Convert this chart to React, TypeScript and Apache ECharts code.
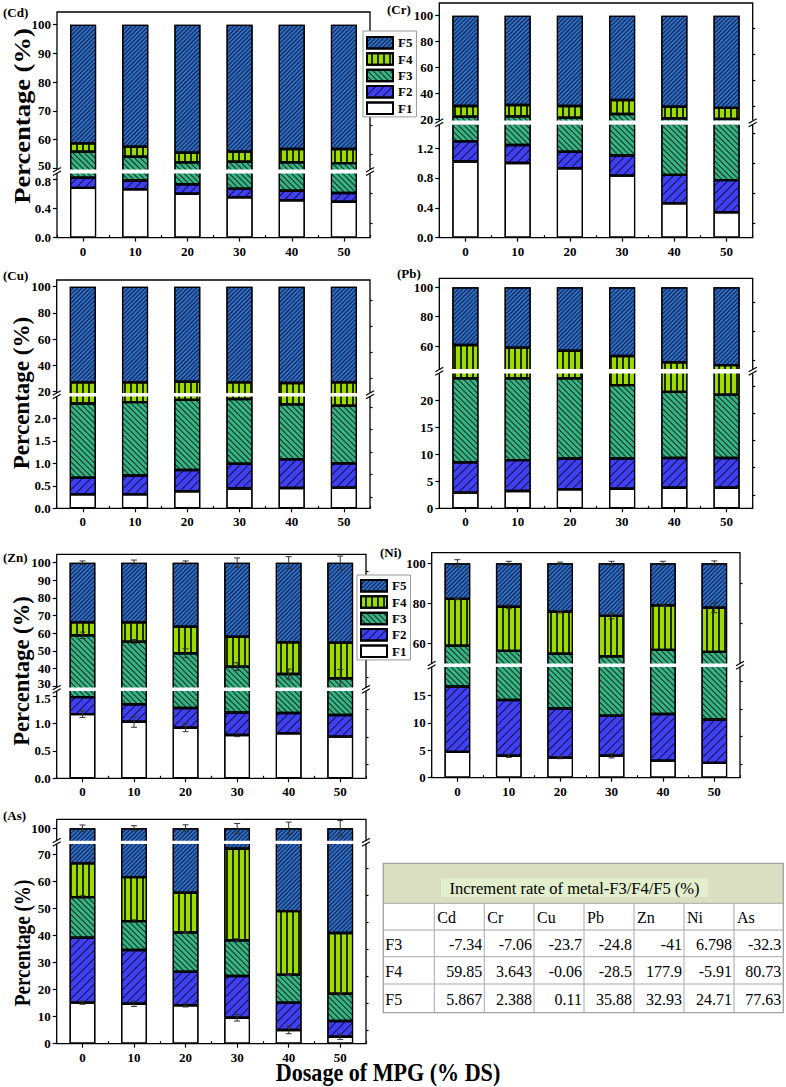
import React, { useEffect, useRef } from 'react';
import * as echarts from 'echarts';

const DOSAGE = ['0', '10', '20', '30', '40', '50'];
const FRACTIONS = ['F1', 'F2', 'F3', 'F4', 'F5'];
const LEGEND_ORDER = ['F5', 'F4', 'F3', 'F2', 'F1'];

// Cd (%)
const CD_F1 = [0.68, 0.66, 0.6, 0.55, 0.51, 0.49];
const CD_F2 = [0.14, 0.12, 0.13, 0.12, 0.13, 0.12];
const CD_F3 = [54.98, 53.22, 51.37, 51.63, 51.46, 51.19];
const CD_F4 = [2.9, 3.5, 3.3, 3.5, 4.6, 4.9];
const CD_F5 = [41.3, 42.5, 44.6, 44.2, 43.3, 43.3];
// Cr
const CR_F1 = [1.02, 1.0, 0.93, 0.83, 0.46, 0.34];
const CR_F2 = [0.27, 0.24, 0.22, 0.27, 0.38, 0.43];
const CR_F3 = [20.51, 20.76, 19.85, 22.8, 19.66, 19.23];
const CR_F4 = [8.3, 8.9, 9.1, 10.8, 9.0, 8.6];
const CR_F5 = [69.9, 69.1, 69.9, 65.3, 70.5, 71.4];
// Cu
const CU_F1 = [0.31, 0.31, 0.38, 0.44, 0.45, 0.46];
const CU_F2 = [0.37, 0.42, 0.47, 0.55, 0.64, 0.54];
const CU_F3 = [1.65, 1.63, 1.56, 1.44, 1.22, 1.28];
const CU_F4 = [24.87, 24.84, 25.19, 24.77, 24.29, 24.92];
const CU_F5 = [72.8, 72.8, 72.4, 72.8, 73.4, 72.8];
// Pb
const PB_F1 = [2.9, 3.2, 3.5, 3.6, 3.8, 3.8];
const PB_F2 = [5.6, 5.7, 5.7, 5.6, 5.5, 5.5];
const PB_F3 = [15.5, 15.1, 14.8, 13.55, 12.2, 11.7];
const PB_F4 = [36.7, 34.9, 32.8, 30.45, 27.4, 26.0];
const PB_F5 = [39.3, 41.1, 43.2, 46.8, 51.1, 53.0];
// Zn
const ZN_F1 = [1.17, 1.03, 0.92, 0.79, 0.82, 0.76];
const ZN_F2 = [0.31, 0.32, 0.36, 0.41, 0.37, 0.395];
const ZN_F3 = [57.32, 53.85, 47.32, 39.8, 35.61, 33.245];
const ZN_F4 = [7.4, 11.0, 15.1, 17.0, 18.0, 20.2];
const ZN_F5 = [33.8, 33.8, 36.3, 42.0, 45.2, 45.4];
// Ni
const NI_F1 = [4.7, 4.0, 3.65, 4.0, 3.1, 2.7];
const NI_F2 = [11.9, 10.15, 8.95, 7.3, 8.5, 7.9];
const NI_F3 = [42.2, 42.05, 42.2, 42.2, 45.1, 45.1];
const NI_F4 = [23.4, 22.1, 21.0, 20.2, 22.3, 22.1];
const NI_F5 = [17.8, 21.7, 24.2, 26.3, 21.0, 22.2];
// As
const AS_F1 = [15.2, 14.8, 14.2, 9.6, 5.1, 2.6];
const AS_F2 = [24.1, 19.9, 12.5, 15.5, 10.1, 5.8];
const AS_F3 = [15.0, 10.7, 14.5, 13.2, 10.4, 10.1];
const AS_F4 = [12.5, 16.3, 14.7, 33.9, 23.5, 22.5];
const AS_F5 = [33.2, 38.3, 44.1, 27.8, 50.9, 59.0];

// error bars (± value), placed at the cumulative top of a fraction
const ZN_ERR_TOP = [1.0, 1.5, 1.0, 2.7, 3.4, 3.8];
const ZN_ERR_F3 = [1.8, 1.2, 2.5, 2.2, 2.8, 5.0];
const ZN_ERR_F1 = [0.06, 0.1, 0.07, 0.03, 0, 0];
const NI_ERR_TOP = [1.8, 1.0, 0.6, 1.0, 1.0, 1.2];
const NI_ERR_F4 = [0.4, 1.0, 0.6, 1.5, 0.6, 2.5];
const NI_ERR_F1 = [0, 0.3, 0.2, 0.4, 0, 0];
const AS_ERR_TOP = [1.5, 1.2, 1.6, 2.2, 2.8, 3.5];
const AS_ERR_F1 = [0.6, 1.0, 0.6, 1.2, 1.4, 1.0];
const AS_ERR_F3 = [0.5, 0.5, 0.4, 0.6, 0.4, 0.4];

// tick labels
const CD_UP_TICKS = [50, 60, 70, 80, 90, 100];
const CD_UP_MINOR = [55, 65, 75, 85, 95];
const CD_LOW_TICKS = [0, 0.4, 0.8];
const CD_LOW_MINOR = [0.2, 0.6];
const CR_UP_TICKS = [20, 40, 60, 80, 100];
const CR_UP_MINOR = [30, 50, 70, 90];
const CR_LOW_TICKS = [0, 0.4, 0.8, 1.2];
const CR_LOW_MINOR = [0.2, 0.6, 1.0, 1.4];
const CU_UP_TICKS = [20, 40, 60, 80, 100];
const CU_UP_MINOR = [30, 50, 70, 90];
const CU_LOW_TICKS = [0, 0.5, 1.0, 1.5, 2.0];
const CU_LOW_MINOR = [0.25, 0.75, 1.25, 1.75, 2.25];
const PB_UP_TICKS = [60, 80, 100];
const PB_UP_MINOR = [50, 70, 90];
const PB_LOW_TICKS = [0, 5, 10, 15, 20];
const PB_LOW_MINOR = [2.5, 7.5, 12.5, 17.5, 22.5];
const ZN_UP_TICKS = [30, 40, 50, 60, 70, 80, 90, 100];
const ZN_UP_MINOR = [35, 45, 55, 65, 75, 85, 95];
const ZN_LOW_TICKS = [0, 0.5, 1.0, 1.5];
const ZN_LOW_MINOR = [0.25, 0.75, 1.25];
const NI_UP_TICKS = [60, 80, 100];
const NI_UP_MINOR = [70, 90];
const NI_LOW_TICKS = [0, 5, 10, 15];
const NI_LOW_MINOR = [2.5, 7.5, 12.5, 17.5];
const AS_UP_TICKS = [95, 100];
const AS_UP_MINOR: number[] = [];
const AS_LOW_TICKS = [0, 10, 20, 30, 40, 50, 60, 70];
const AS_LOW_MINOR = [5, 15, 25, 35, 45, 55, 65];

// table
const TABLE_TITLE = 'Increment rate of metal-F3/F4/F5 (%)';
const TABLE_METALS = ['Cd', 'Cr', 'Cu', 'Pb', 'Zn', 'Ni', 'As'];
const TABLE_ROWS = ['F3', 'F4', 'F5'];
const INC_F3 = ['-7.34', '-7.06', '-23.7', '-24.8', '-41', '6.798', '-32.3'];
const INC_F4 = ['59.85', '3.643', '-0.06', '-28.5', '177.9', '-5.91', '80.73'];
const INC_F5 = ['5.867', '2.388', '0.11', '35.88', '32.93', '24.71', '77.63'];

const SERIF = "'Liberation Serif', 'Times New Roman', serif";

const COLORS = ['#ffffff', '#4040f0', '#38b386', '#9ddb00', '#2f6ec2'];
const DECALS: any[] = [
  { symbol: 'none' },
  { symbol: 'rect', symbolSize: 1, dashArrayX: [1, 0], dashArrayY: [1, 5], rotation: -Math.PI / 4, color: 'rgba(10,10,60,0.9)' },
  { symbol: 'rect', symbolSize: 1, dashArrayX: [1, 0], dashArrayY: [1, 3], rotation: Math.PI / 4, color: 'rgba(0,30,20,0.9)' },
  { symbol: 'rect', symbolSize: 1, dashArrayX: [1, 0], dashArrayY: [1.5, 4], rotation: Math.PI / 2, color: 'rgba(20,30,0,0.95)' },
  { symbol: 'rect', symbolSize: 1, dashArrayX: [1, 0], dashArrayY: [1, 2], rotation: -Math.PI / 4, color: 'rgba(5,20,60,0.9)' },
];

type Panel = {
  label: string; lx: number; ly: number;
  data: number[][];
  L: number; R: number; T: number; B: number; gapTop: number; gapBot: number;
  up: number[]; low: number[];
  upTicks: number[]; upMinor: number[]; lowTicks: number[]; lowMinor: number[];
  upDec: number; lowDec: number;
  title?: { x: number; y: number; len: number };
  errors?: { level: number; err: number[] }[];
};

const PANELS: Panel[] = [
  {
    label: '(Cd)', lx: 3, ly: 12, data: [CD_F1, CD_F2, CD_F3, CD_F4, CD_F5],
    L: 57, R: 370, T: 12, B: 237.6, gapTop: 169.5, gapBot: 173.5,
    up: [50, 168.3, 100, 24.7], low: [0, 237.6, 0.8, 179.1],
    upTicks: CD_UP_TICKS, upMinor: CD_UP_MINOR, lowTicks: CD_LOW_TICKS, lowMinor: CD_LOW_MINOR,
    upDec: 0, lowDec: 1, title: { x: 21, y: 116, len: 176 },
  },
  {
    label: '(Cr)', lx: 387, ly: 9, data: [CR_F1, CR_F2, CR_F3, CR_F4, CR_F5],
    L: 439.3, R: 752.7, T: 3, B: 237.7, gapTop: 120.5, gapBot: 124.8,
    up: [20, 119, 100, 15.7], low: [0, 237.7, 1.2, 148],
    upTicks: CR_UP_TICKS, upMinor: CR_UP_MINOR, lowTicks: CR_LOW_TICKS, lowMinor: CR_LOW_MINOR,
    upDec: 0, lowDec: 1,
  },
  {
    label: '(Cu)', lx: 3, ly: 275, data: [CU_F1, CU_F2, CU_F3, CU_F4, CU_F5],
    L: 56.7, R: 370, T: 280, B: 508.3, gapTop: 393, gapBot: 396.5,
    up: [20, 391.7, 100, 286.7], low: [0, 508.3, 2.0, 418.3],
    upTicks: CU_UP_TICKS, upMinor: CU_UP_MINOR, lowTicks: CU_LOW_TICKS, lowMinor: CU_LOW_MINOR,
    upDec: 0, lowDec: 1, title: { x: 21, y: 393, len: 153 },
  },
  {
    label: '(Pb)', lx: 397, ly: 273, data: [PB_F1, PB_F2, PB_F3, PB_F4, PB_F5],
    L: 439.3, R: 752.7, T: 278.3, B: 508.3, gapTop: 369, gapBot: 373.5,
    up: [60, 346, 100, 287.3], low: [0, 508.3, 20, 400],
    upTicks: PB_UP_TICKS, upMinor: PB_UP_MINOR, lowTicks: PB_LOW_TICKS, lowMinor: PB_LOW_MINOR,
    upDec: 0, lowDec: 0,
  },
  {
    label: '(Zn)', lx: 3, ly: 557, data: [ZN_F1, ZN_F2, ZN_F3, ZN_F4, ZN_F5],
    L: 56.7, R: 366, T: 554.3, B: 778.3, gapTop: 687.5, gapBot: 691,
    up: [30, 686, 100, 562.7], low: [0, 778.3, 1.5, 696],
    upTicks: ZN_UP_TICKS, upMinor: ZN_UP_MINOR, lowTicks: ZN_LOW_TICKS, lowMinor: ZN_LOW_MINOR,
    upDec: 0, lowDec: 1, title: { x: 21, y: 671, len: 150 },
    errors: [{ level: 4, err: ZN_ERR_TOP }, { level: 2, err: ZN_ERR_F3 }, { level: 0, err: ZN_ERR_F1 }],
  },
  {
    label: '(Ni)', lx: 380, ly: 552, data: [NI_F1, NI_F2, NI_F3, NI_F4, NI_F5],
    L: 431.7, R: 740, T: 552.7, B: 777.7, gapTop: 663.5, gapBot: 667,
    up: [60, 643.3, 100, 563.3], low: [0, 777.7, 15, 695.3],
    upTicks: NI_UP_TICKS, upMinor: NI_UP_MINOR, lowTicks: NI_LOW_TICKS, lowMinor: NI_LOW_MINOR,
    upDec: 0, lowDec: 0,
    errors: [{ level: 4, err: NI_ERR_TOP }, { level: 3, err: NI_ERR_F4 }, { level: 0, err: NI_ERR_F1 }],
  },
  {
    label: '(As)', lx: 3, ly: 815, data: [AS_F1, AS_F2, AS_F3, AS_F4, AS_F5],
    L: 56.7, R: 366, T: 819.3, B: 1043.7, gapTop: 840.7, gapBot: 844,
    up: [95, 839.3, 100, 828.3], low: [0, 1043.7, 70, 854.7],
    upTicks: AS_UP_TICKS, upMinor: AS_UP_MINOR, lowTicks: AS_LOW_TICKS, lowMinor: AS_LOW_MINOR,
    upDec: 0, lowDec: 0, title: { x: 22, y: 943, len: 127 },
    errors: [{ level: 4, err: AS_ERR_TOP }, { level: 0, err: AS_ERR_F1 }, { level: 2, err: AS_ERR_F3 }],
  },
];

// table layout
const TCOLS = [383.3, 434.3, 484.3, 534, 584, 634, 684, 734, 783.3];
const TROWS = [863.3, 903.3, 930, 956.7, 984, 1012.7];

function lin(ref: number[], p: number) {
  const [v1, p1, v2, p2] = ref;
  return v1 + ((p - p1) * (v2 - v1)) / (p2 - p1);
}
function pix(ref: number[], v: number) {
  const [v1, p1, v2, p2] = ref;
  return p1 + ((v - v1) * (p2 - p1)) / (v2 - v1);
}

function buildOption() {
  const grids: any[] = [];
  const xAxes: any[] = [];
  const yAxes: any[] = [];
  const series: any[] = [];
  const els: any[] = [];
  const tickLine = { color: '#000', width: 1.2 };
  const labelFont = { fontFamily: SERIF, fontWeight: 'bold', fontSize: 13, color: '#000' };

  PANELS.forEach((p) => {
    // labels adjacent to the break that would collide get nudged apart
    const upEdge = Math.min(...p.upTicks);
    const lowEdge = Math.max(...p.lowTicks);
    const crowded = pix(p.low, lowEdge) - pix(p.up, upEdge) < 15;
    const parts = [
      { top: p.T, bottom: p.gapTop + 1, ref: p.up, ticks: p.upTicks, minor: p.upMinor, dec: p.upDec, lower: false, edge: upEdge },
      { top: p.gapBot - 1, bottom: p.B, ref: p.low, ticks: p.lowTicks, minor: p.lowMinor, dec: p.lowDec, lower: true, edge: lowEdge },
    ];
    parts.forEach((part) => {
      const gi = grids.length;
      grids.push({ left: p.L, top: part.top, width: p.R - p.L, height: part.bottom - part.top, containLabel: false, outerBoundsMode: 'none' });
      const xi = xAxes.length;
      xAxes.push({
        type: 'category', gridIndex: gi, data: DOSAGE, show: part.lower,
        axisLine: { show: false },
        axisTick: { show: true, alignWithLabel: true, length: 4, lineStyle: tickLine },
        axisLabel: { ...labelFont, margin: 7, interval: 0 },
        splitLine: { show: false },
      });
      if (part.lower) {
        xAxes.push({
          type: 'category', gridIndex: gi, data: DOSAGE,
          axisLine: { show: false },
          axisTick: { show: true, length: 2.5, lineStyle: tickLine },
          axisLabel: { show: false },
          splitLine: { show: false },
        });
      }
      const min = lin(part.ref, part.bottom);
      const max = lin(part.ref, part.top);
      const yi = yAxes.length;
      const dec = part.dec;
      const edge = part.edge;
      const lower = part.lower;
      yAxes.push({
        type: 'value', gridIndex: gi, min, max,
        axisLine: { show: false }, splitLine: { show: false },
        axisTick: { show: true, length: 4, lineStyle: tickLine, customValues: part.ticks },
        axisLabel: {
          ...labelFont, margin: 6, customValues: part.ticks,
          formatter: (v: number) => {
            const s = v.toFixed(dec);
            return crowded && Math.abs(v - edge) < 1e-9 ? `{e|${s}}` : s;
          },
          rich: { e: { ...labelFont, padding: lower ? [5, 0, 0, 0] : [0, 0, 5, 0] } },
        },
      });
      if (part.minor.length) {
        yAxes.push({
          type: 'value', gridIndex: gi, min, max,
          axisLine: { show: false }, splitLine: { show: false },
          axisTick: { show: true, length: 2.5, lineStyle: tickLine, customValues: part.minor },
          axisLabel: { show: false },
        });
      }
      FRACTIONS.forEach((f, k) => {
        series.push({
          type: 'bar', name: f, xAxisIndex: xi, yAxisIndex: yi, stack: 'g' + gi,
          barWidth: '50%', data: p.data[k], clip: true, silent: true,
          emphasis: { disabled: true },
          itemStyle: { color: COLORS[k], borderColor: '#000', borderWidth: 1.2, decal: DECALS[k] },
        });
      });
      if (p.errors) {
        const items: number[][] = [];
        p.errors.forEach((e) => {
          e.err.forEach((ev, i) => {
            if (!ev) return;
            let cum = 0;
            for (let k = 0; k <= e.level; k++) cum += p.data[k][i];
            const inUpper = cum >= lin(p.up, p.gapTop);
            if (inUpper !== !part.lower) return;
            items.push([i, cum, ev]);
          });
        });
        series.push({
          type: 'custom', xAxisIndex: xi, yAxisIndex: yi, data: items, silent: true, z: 2.5,
          renderItem: (params: any, api: any) => {
            const x = api.value(0), y = api.value(1), e = api.value(2);
            const a = api.coord([x, y + e]);
            const b = api.coord([x, y - e]);
            const s = { stroke: '#333', lineWidth: 1 };
            return {
              type: 'group',
              children: [
                { type: 'line', shape: { x1: a[0], y1: a[1], x2: b[0], y2: b[1] }, style: s },
                { type: 'line', shape: { x1: a[0] - 3, y1: a[1], x2: a[0] + 3, y2: a[1] }, style: s },
                { type: 'line', shape: { x1: b[0] - 3, y1: b[1], x2: b[0] + 3, y2: b[1] }, style: s },
              ],
            };
          },
        });
      }
    });

    // frame
    els.push({ type: 'rect', silent: true, z: 3, shape: { x: p.L, y: p.T, width: p.R - p.L, height: p.B - p.T }, style: { fill: 'none', stroke: '#000', lineWidth: 1.3 } });
    // gap
    els.push({ type: 'rect', silent: true, z: 5, shape: { x: p.L - 5, y: p.gapTop, width: p.R - p.L + 10, height: p.gapBot - p.gapTop }, style: { fill: '#fff' } });
    const ym = (p.gapTop + p.gapBot) / 2;
    [p.L, p.R].forEach((x) => {
      els.push({ type: 'line', silent: true, z: 6, shape: { x1: x - 4, y1: ym + 0.5, x2: x + 4, y2: ym - 4 }, style: { stroke: '#000', lineWidth: 1.2 } });
      els.push({ type: 'line', silent: true, z: 6, shape: { x1: x - 4, y1: ym + 4, x2: x + 4, y2: ym - 0.5 }, style: { stroke: '#000', lineWidth: 1.2 } });
    });
    els.push({ type: 'text', silent: true, z: 6, x: p.lx, y: p.ly, style: { text: p.label, font: `bold 13px ${SERIF}`, fill: '#000', textAlign: 'left', textVerticalAlign: 'middle' } });
    if (p.title) {
      els.push({
        type: 'text', silent: true, z: 6, x: p.title.x, y: p.title.y, rotation: Math.PI / 2,
        scaleX: p.title.len / 159.3, scaleY: 1,
        style: { text: 'Percentage (%)', font: `bold 24px ${SERIF}`, fill: '#000', textAlign: 'center', textVerticalAlign: 'middle' },
      });
    }
  });

  // x axis title
  els.push({
    type: 'text', silent: true, z: 6, x: 388, y: 1072, scaleX: 0.85,
    style: { text: 'Dosage of MPG (% DS)', font: `bold 26px ${SERIF}`, fill: '#000', textAlign: 'center', textVerticalAlign: 'middle' },
  });

  // table
  const tx = TCOLS[0], tw = TCOLS[TCOLS.length - 1] - TCOLS[0];
  const ty = TROWS[0], th = TROWS[TROWS.length - 1] - TROWS[0];
  els.push({ type: 'rect', silent: true, z: 6, shape: { x: tx, y: ty, width: tw, height: th }, style: { fill: '#fff', stroke: 'none' } });
  els.push({ type: 'rect', silent: true, z: 6, shape: { x: tx, y: ty, width: tw, height: TROWS[1] - TROWS[0] }, style: { fill: '#d9dfc0' } });
  els.push({ type: 'rect', silent: true, z: 7, shape: { x: 441, y: 878, width: 267, height: 19 }, style: { fill: '#e3eecd' } });
  els.push({ type: 'text', silent: true, z: 8, x: 574.5, y: 888, style: { text: TABLE_TITLE, font: `16.5px ${SERIF}`, fill: '#000', textAlign: 'center', textVerticalAlign: 'middle' } });
  TROWS.slice(1, TROWS.length - 1).forEach((y) => {
    els.push({ type: 'line', silent: true, z: 8, shape: { x1: tx, y1: y, x2: tx + tw, y2: y }, style: { stroke: '#a8a8a8', lineWidth: 1 } });
  });
  TCOLS.slice(1, TCOLS.length - 1).forEach((x) => {
    els.push({ type: 'line', silent: true, z: 8, shape: { x1: x, y1: TROWS[1], x2: x, y2: TROWS[TROWS.length - 1] }, style: { stroke: '#a8a8a8', lineWidth: 1 } });
  });
  els.push({ type: 'rect', silent: true, z: 9, shape: { x: tx, y: ty, width: tw, height: th }, style: { fill: 'none', stroke: '#a0a0a0', lineWidth: 1.3 } });
  const cellFont = `16px ${SERIF}`;
  TABLE_METALS.forEach((m, i) => {
    els.push({ type: 'text', silent: true, z: 9, x: TCOLS[i + 1] + 3, y: (TROWS[1] + TROWS[2]) / 2 + 1, style: { text: m, font: cellFont, fill: '#000', textAlign: 'left', textVerticalAlign: 'middle' } });
  });
  const rowVals = [INC_F3, INC_F4, INC_F5];
  TABLE_ROWS.forEach((r, j) => {
    const yc = (TROWS[j + 2] + TROWS[j + 3]) / 2 + 1;
    els.push({ type: 'text', silent: true, z: 9, x: tx + 2, y: yc, style: { text: r, font: cellFont, fill: '#000', textAlign: 'left', textVerticalAlign: 'middle' } });
    rowVals[j].forEach((v, i) => {
      els.push({ type: 'text', silent: true, z: 9, x: TCOLS[i + 2] - 2, y: yc, style: { text: v, font: cellFont, fill: '#000', textAlign: 'right', textVerticalAlign: 'middle' } });
    });
  });

  const legendBase = {
    data: LEGEND_ORDER, orient: 'vertical', itemWidth: 26, itemHeight: 11.5, itemGap: 2.85,
    borderColor: '#999', borderWidth: 1, backgroundColor: '#fff', selectedMode: false, icon: 'rect', z: 7,
    textStyle: { fontFamily: SERIF, fontWeight: 'bold', fontSize: 13, lineHeight: 12, color: '#000' },
  };

  return {
    animation: false,
    backgroundColor: '#fff',
    aria: { enabled: true, decal: { show: true } },
    grid: grids,
    xAxis: xAxes,
    yAxis: yAxes,
    series,
    legend: [
      { ...legendBase, left: 363, top: 31, padding: [5, 4, 2, 3] },
      { ...legendBase, left: 357, top: 575, padding: [4, 4, 2, 3] },
    ],
    graphic: { elements: els },
  };
}

export default function App() {
  const ref = useRef<HTMLDivElement>(null);
  useEffect(() => {
    if (!ref.current) return;
    const chart = echarts.init(ref.current, null, { renderer: 'svg' });
    chart.setOption(buildOption() as any);
    return () => chart.dispose();
  }, []);
  return <div ref={ref} style={{ position: 'absolute', left: 0, top: 0, width: 786, height: 1087, background: '#fff' }} />;
}
